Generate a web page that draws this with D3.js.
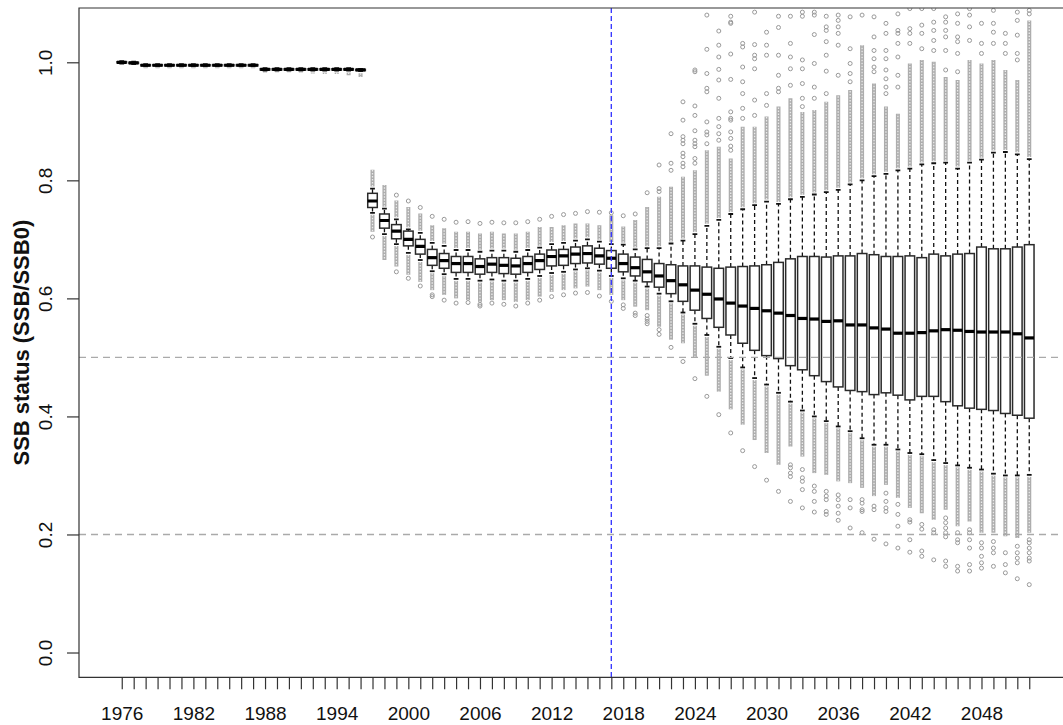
<!DOCTYPE html>
<html>
<head>
<meta charset="utf-8">
<script src="https://cdn.jsdelivr.net/npm/d3@7"></script>
<style>
  body { margin: 0; background: #fff; overflow: hidden; }
  svg { display: block; font-family: "Liberation Sans", Arial, Helvetica, sans-serif; }
</style>
</head>
<body>
<svg id="chart" width="1063" height="725"></svg>
<script>
// one box per year
var years = d3.range(1976, 2053);

// box statistics (SSB/SSB0)
var q3 = [1.001, 1.000,
  0.996, 0.996, 0.996, 0.996, 0.996, 0.996, 0.996, 0.996, 0.996, 0.996,
  0.989, 0.989, 0.989, 0.989, 0.989, 0.989, 0.989, 0.989, 0.988,
  0.778, 0.743, 0.725, 0.714, 0.700, 0.683, 0.676, 0.671, 0.671, 0.667, 0.669, 0.669, 0.668, 0.671, 0.675, 0.682, 0.683, 0.687, 0.689, 0.685,
  0.681, 0.675, 0.670, 0.666, 0.659, 0.657, 0.655, 0.655, 0.653, 0.651, 0.653, 0.654, 0.655, 0.657, 0.661, 0.667, 0.671, 0.671,
  0.670, 0.672, 0.672, 0.676, 0.674, 0.671, 0.671, 0.672, 0.669, 0.675, 0.672, 0.675, 0.676, 0.687, 0.684, 0.684, 0.687, 0.691];

var med = [1.000, 0.999,
  0.995, 0.995, 0.995, 0.995, 0.995, 0.995, 0.995, 0.995, 0.995, 0.995,
  0.988, 0.988, 0.988, 0.988, 0.988, 0.988, 0.988, 0.988, 0.987,
  0.765, 0.732, 0.714, 0.700, 0.688, 0.669, 0.664, 0.659, 0.659, 0.654, 0.658, 0.656, 0.655, 0.659, 0.664, 0.671, 0.672, 0.675, 0.676, 0.672,
  0.668, 0.659, 0.652, 0.645, 0.638, 0.630, 0.623, 0.614, 0.607, 0.599, 0.592, 0.587, 0.583, 0.579, 0.575, 0.571, 0.566, 0.565,
  0.561, 0.562, 0.555, 0.555, 0.550, 0.548, 0.541, 0.541, 0.542, 0.545, 0.547, 0.546, 0.544, 0.543, 0.543, 0.543, 0.540, 0.533];

var q1 = [0.999, 0.998,
  0.994, 0.994, 0.994, 0.994, 0.994, 0.994, 0.994, 0.994, 0.994, 0.994,
  0.987, 0.987, 0.987, 0.987, 0.987, 0.987, 0.987, 0.987, 0.986,
  0.754, 0.719, 0.701, 0.689, 0.675, 0.656, 0.651, 0.644, 0.644, 0.641, 0.644, 0.642, 0.641, 0.644, 0.649, 0.655, 0.656, 0.659, 0.660, 0.658,
  0.651, 0.645, 0.638, 0.628, 0.619, 0.608, 0.595, 0.580, 0.566, 0.551, 0.538, 0.524, 0.512, 0.503, 0.498, 0.486, 0.479, 0.469,
  0.459, 0.450, 0.444, 0.442, 0.437, 0.440, 0.436, 0.428, 0.434, 0.434, 0.425, 0.418, 0.414, 0.412, 0.410, 0.405, 0.402, 0.397];

var whiskerHi = [1.002, 1.001,
  0.997, 0.997, 0.997, 0.997, 0.997, 0.997, 0.997, 0.997, 0.997, 0.997,
  0.990, 0.990, 0.990, 0.990, 0.990, 0.990, 0.990, 0.990, 0.989,
  0.786, 0.752, 0.734, 0.717, 0.711, 0.694, 0.689, 0.682, 0.682, 0.679, 0.681, 0.681, 0.679, 0.682, 0.686, 0.692, 0.694, 0.698, 0.700, 0.696,
  0.692, 0.691, 0.683, 0.685, 0.685, 0.693, 0.698, 0.709, 0.723, 0.733, 0.743, 0.751, 0.758, 0.764, 0.760, 0.768, 0.772, 0.776,
  0.780, 0.784, 0.793, 0.800, 0.807, 0.811, 0.817, 0.820, 0.827, 0.829, 0.830, 0.820, 0.830, 0.835, 0.847, 0.848, 0.844, 0.836];

var whiskerLo = [0.998, 0.997,
  0.993, 0.993, 0.993, 0.993, 0.993, 0.993, 0.993, 0.993, 0.993, 0.993,
  0.986, 0.986, 0.986, 0.986, 0.986, 0.986, 0.986, 0.986, 0.985,
  0.745, 0.709, 0.692, 0.677, 0.665, 0.646, 0.641, 0.633, 0.633, 0.630, 0.632, 0.630, 0.630, 0.633, 0.638, 0.643, 0.645, 0.649, 0.651, 0.647,
  0.638, 0.634, 0.630, 0.620, 0.608, 0.595, 0.576, 0.557, 0.538, 0.518, 0.499, 0.483, 0.465, 0.454, 0.440, 0.425, 0.410, 0.400,
  0.392, 0.383, 0.375, 0.363, 0.352, 0.352, 0.344, 0.338, 0.336, 0.326, 0.321, 0.317, 0.313, 0.310, 0.303, 0.300, 0.300, 0.301];

// outliers packed so tightly they form a column: column end beyond the whisker
var denseHiTop = [null, null,
  null, null, null, null, null, null, null, null, null, null,
  null, null, null, null, null, null, null, null, null,
  0.818, 0.792, 0.766, 0.755, 0.744, 0.724, 0.719, 0.713, 0.713, 0.710, 0.713, 0.710, 0.710, 0.713, 0.721, 0.721, 0.724, 0.727, 0.727, 0.724,
  0.741, 0.722, 0.733, 0.755, 0.772, 0.789, 0.806, 0.817, 0.851, 0.857, 0.837, 0.891, 0.891, 0.908, 0.925, 0.939, 0.916, 0.919,
  0.933, 0.944, 0.953, 1.029, 0.964, 0.925, 0.913, 0.998, 1.004, 1.001, 0.975, 0.970, 1.004, 0.998, 1.004, 0.987, 0.970, 1.071];

var denseLoBottom = [null, null,
  0.990, 0.990, 0.990, 0.990, 0.990, 0.990, 0.990, 0.990, 0.990, 0.990,
  0.984, 0.983, 0.983, 0.982, 0.981, 0.980, 0.980, 0.978, 0.975,
  0.713, 0.665, 0.654, 0.640, 0.628, 0.614, 0.606, 0.600, 0.597, 0.594, 0.597, 0.597, 0.594, 0.597, 0.603, 0.611, 0.614, 0.617, 0.620, 0.614,
  0.606, 0.597, 0.586, 0.580, 0.552, 0.530, 0.524, 0.499, 0.469, 0.442, 0.412, 0.386, 0.360, 0.338, 0.318, 0.349, 0.332, 0.304,
  0.301, 0.290, 0.287, 0.279, 0.265, 0.284, 0.262, 0.245, 0.236, 0.225, 0.242, 0.214, 0.222, 0.203, 0.203, 0.197, 0.194, 0.203];

// single outliers above and below
var outHi = [[], [],
  [], [], [], [], [], [], [], [], [], [],
  [], [], [], [], [], [], [], [], [],
  [], [], [0.775], [0.765], [0.754], [0.739], [0.734], [0.729], [0.730], [0.727], [0.729], [0.728], [0.728], [0.730], [0.734], [0.739], [0.742], [0.744], [0.747], [0.746],
  [0.745], [0.740], [0.743], [0.779], [0.826, 0.786, 0.781], [0.879, 0.829, 0.817],
  [0.933, 0.902, 0.874, 0.868, 0.862, 0.846, 0.840, 0.829, 0.823],
  [0.987, 0.984, 0.926, 0.910, 0.884, 0.868, 0.862, 0.857, 0.837, 0.829],
  [1.080, 1.022, 0.981, 0.956, 0.950, 0.899, 0.882, 0.877, 0.862],
  [1.053, 1.029, 1.009, 0.988, 0.970, 0.939, 0.905, 0.891, 0.879, 0.868],
  [1.078, 1.068, 1.066, 1.014, 0.971, 0.916, 0.905, 0.902, 0.882, 0.871, 0.858, 0.851],
  [1.032, 1.026, 0.992, 0.967, 0.947, 0.922, 0.905],
  [1.085, 1.030, 1.012, 1.006, 0.989, 0.936, 0.910],
  [1.051, 1.029, 1.012, 0.947, 0.927],
  [1.078, 1.059, 1.012, 0.978, 0.956, 0.950],
  [1.078, 1.032, 1.009, 0.989, 0.961],
  [1.085, 1.078, 1.004, 0.989, 0.964, 0.939, 0.925],
  [1.085, 1.080, 1.047, 0.998, 0.958, 0.939],
  [1.078, 1.060, 1.054, 1.035, 1.012, 0.985, 0.947],
  [1.080, 1.071, 1.060, 1.049, 1.029, 0.978],
  [1.077, 1.023, 0.998, 0.981, 0.967],
  [1.080],
  [1.077, 1.043, 1.020, 1.006, 0.992, 0.984],
  [1.066, 1.049, 1.020, 1.006, 0.987, 0.972, 0.958, 0.947],
  [1.082, 1.054, 1.049, 1.032, 1.009, 0.978, 0.958],
  [1.091, 1.057, 1.049, 1.032],
  [1.091, 1.063, 1.049, 1.023],
  [1.091, 1.068, 1.054, 1.037, 1.020],
  [1.077, 1.068, 1.054, 1.043, 1.020, 0.987],
  [1.082, 1.066, 1.043, 1.035, 1.015, 0.984],
  [1.091, 1.080, 1.060, 1.037],
  [1.066, 1.032, 1.015],
  [1.088, 1.066, 1.051, 1.032],
  [1.049, 1.032, 1.015],
  [1.085, 1.071, 1.046, 1.015, 1.004],
  [1.088, 1.082]];

var outLo = [[], [],
  [], [], [], [], [], [], [], [], [], [],
  [], [], [], [], [], [], [], [], [],
  [0.704], [], [0.645], [0.634], [0.621], [0.606, 0.603], [0.597], [0.592], [0.593], [0.590, 0.587], [0.592], [0.590], [0.587], [0.592], [0.597], [0.603], [0.606], [0.609], [0.610], [0.604],
  [0.595], [0.589, 0.583], [0.575, 0.571], [0.571, 0.565, 0.561, 0.557], [0.547, 0.539], [0.517], [0.493], [0.464],
  [0.434], [0.403], [0.372], [0.342], [0.315], [0.292], [0.273],
  [0.318, 0.313, 0.304, 0.298, 0.256],
  [0.310, 0.296, 0.290, 0.276, 0.245],
  [0.282, 0.273, 0.256, 0.238],
  [0.273, 0.265, 0.259, 0.239, 0.234],
  [0.267, 0.259, 0.248, 0.236, 0.224],
  [0.259, 0.245, 0.211],
  [0.259, 0.253, 0.242, 0.239, 0.203],
  [0.248, 0.242, 0.192],
  [0.270, 0.256, 0.245, 0.239, 0.184],
  [0.251, 0.234, 0.214, 0.177],
  [0.225, 0.221, 0.191, 0.170],
  [0.217, 0.209, 0.172, 0.163],
  [0.208, 0.203, 0.157],
  [0.228, 0.220, 0.211, 0.203, 0.196, 0.155, 0.146],
  [0.203, 0.191, 0.186, 0.146, 0.138],
  [0.208, 0.203, 0.191, 0.177, 0.149, 0.138],
  [0.186, 0.177, 0.163, 0.152, 0.143],
  [0.188, 0.177, 0.169, 0.146],
  [0.169, 0.149, 0.135],
  [0.180, 0.169, 0.160, 0.152, 0.125],
  [0.191, 0.186, 0.177, 0.169, 0.160, 0.155, 0.115]];

var yTicks = [0, 0.2, 0.4, 0.6, 0.8, 1.0];
var refLevels = [0.5, 0.2];
var refYear = 2017;
var yLabel = 'SSB status (SSB/SSB0)';

// plot region, the right edge sits just outside the picture
var plotL = 79, plotR = 1072, plotT = 8, plotB = 677.3;

var svg = d3.select('#chart');

var x = d3.scaleLinear().domain([1972.42, 2055.58]).range([plotL, plotR]);
var y = d3.scaleLinear().domain([-0.042, 1.092]).range([plotB, plotT]);

var boxW = (x(1977) - x(1976)) * 0.8;

var rows = years.map(function (yr, i) {
  return {
    year: yr, q1: q1[i], med: med[i], q3: q3[i],
    lo: whiskerLo[i], hi: whiskerHi[i],
    denseHi: denseHiTop[i], denseLo: denseLoBottom[i],
    outHi: outHi[i], outLo: outLo[i]
  };
});

svg.append('defs').append('clipPath').attr('id', 'plotclip')
  .append('rect')
  .attr('x', plotL).attr('y', plotT)
  .attr('width', plotR - plotL).attr('height', plotB - plotT);

var plot = svg.append('g').attr('clip-path', 'url(#plotclip)');

// dense outlier columns
var dense = [];
rows.forEach(function (d) {
  if (d.denseHi != null) dense.push({ x: d.year, y0: y(d.hi) - 2, y1: y(d.denseHi) });
  if (d.denseLo != null) dense.push({ x: d.year, y0: y(d.lo) + 2, y1: y(d.denseLo) });
});

plot.selectAll('line.dense').data(dense).join('line')
  .attr('class', 'dense')
  .attr('x1', function (d) { return x(d.x); })
  .attr('x2', function (d) { return x(d.x); })
  .attr('y1', function (d) { return d.y0; })
  .attr('y2', function (d) { return d.y1; })
  .attr('stroke', '#adadad')
  .attr('stroke-width', 4);

plot.selectAll('line.denseIn').data(dense).join('line')
  .attr('class', 'denseIn')
  .attr('x1', function (d) { return x(d.x); })
  .attr('x2', function (d) { return x(d.x); })
  .attr('y1', function (d) { return d.y0; })
  .attr('y2', function (d) { return d.y1; })
  .attr('stroke', '#ececec')
  .attr('stroke-width', 1.3)
  .attr('stroke-dasharray', '1.5,1.5');

// single outliers
var points = [];
rows.forEach(function (d) {
  d.outHi.forEach(function (v) { points.push({ x: d.year, v: v }); });
  d.outLo.forEach(function (v) { points.push({ x: d.year, v: v }); });
});

plot.selectAll('circle.out').data(points).join('circle')
  .attr('class', 'out')
  .attr('cx', function (d) { return x(d.x); })
  .attr('cy', function (d) { return y(d.v); })
  .attr('r', 2)
  .attr('fill', 'none')
  .attr('stroke', '#999')
  .attr('stroke-width', 1);

var boxes = plot.selectAll('g.box').data(rows).join('g')
  .attr('class', 'box')
  .attr('transform', function (d) { return 'translate(' + x(d.year) + ',0)'; });

// whiskers, dashed
boxes.append('line')
  .attr('y1', function (d) { return y(d.q3); })
  .attr('y2', function (d) { return y(d.hi); })
  .attr('stroke', '#111').attr('stroke-width', 1.3)
  .attr('stroke-dasharray', '4,3');
boxes.append('line')
  .attr('y1', function (d) { return y(d.q1); })
  .attr('y2', function (d) { return y(d.lo); })
  .attr('stroke', '#111').attr('stroke-width', 1.3)
  .attr('stroke-dasharray', '4,3');

// staples
boxes.append('line')
  .attr('x1', -boxW / 4).attr('x2', boxW / 4)
  .attr('y1', function (d) { return y(d.hi); })
  .attr('y2', function (d) { return y(d.hi); })
  .attr('stroke', '#111').attr('stroke-width', 1.8);
boxes.append('line')
  .attr('x1', -boxW / 4).attr('x2', boxW / 4)
  .attr('y1', function (d) { return y(d.lo); })
  .attr('y2', function (d) { return y(d.lo); })
  .attr('stroke', '#111').attr('stroke-width', 1.8);

boxes.append('rect')
  .attr('x', -boxW / 2)
  .attr('width', boxW)
  .attr('y', function (d) { return y(d.q3); })
  .attr('height', function (d) { return y(d.q1) - y(d.q3); })
  .attr('fill', '#fff')
  .attr('stroke', '#2a2a2a')
  .attr('stroke-width', 1.5);

boxes.append('line')
  .attr('x1', -boxW / 2).attr('x2', boxW / 2)
  .attr('y1', function (d) { return y(d.med); })
  .attr('y2', function (d) { return y(d.med); })
  .attr('stroke', '#000').attr('stroke-width', 3.2);

// reference lines
plot.selectAll('line.ref').data(refLevels).join('line')
  .attr('class', 'ref')
  .attr('x1', plotL).attr('x2', plotR)
  .attr('y1', function (d) { return y(d); })
  .attr('y2', function (d) { return y(d); })
  .attr('stroke', '#aaa').attr('stroke-width', 1.4)
  .attr('stroke-dasharray', '7,5');

plot.append('line')
  .attr('x1', x(refYear)).attr('x2', x(refYear))
  .attr('y1', plotT).attr('y2', plotB)
  .attr('stroke', '#3a3aff').attr('stroke-width', 1.4)
  .attr('stroke-dasharray', '5,3');

// frame: left, top and bottom sides; the right side is off the picture
svg.append('path')
  .attr('d', 'M' + (plotR + 5) + ',' + plotT + 'H' + plotL + 'V' + plotB + 'H' + (plotR + 5))
  .attr('fill', 'none').attr('stroke', '#333').attr('stroke-width', 1.2);

// y axis
var yAxis = svg.append('g')
  .attr('transform', 'translate(' + plotL + ',0)')
  .call(d3.axisLeft(y).tickValues(yTicks).tickSize(12).tickFormat(d3.format('.1f')));
yAxis.select('.domain').remove();
yAxis.selectAll('line').attr('stroke', '#333').attr('stroke-width', 1.2);
yAxis.selectAll('text')
  .attr('x', 0).attr('y', -27).attr('dy', null)
  .attr('transform', 'rotate(-90)')
  .attr('text-anchor', 'middle')
  .attr('fill', '#111')
  .attr('font-size', 19)
  .attr('font-family', '"Liberation Sans", Arial, sans-serif');

// x axis, a tick every year, a label every sixth
var xAxis = svg.append('g')
  .attr('transform', 'translate(0,' + plotB + ')')
  .call(d3.axisBottom(x).tickValues(years).tickSize(12).tickPadding(17)
    .tickFormat(function (d) { return (d - 1976) % 6 === 0 ? d : ''; }));
xAxis.select('.domain').remove();
xAxis.selectAll('line').attr('stroke', '#333').attr('stroke-width', 1.2);
xAxis.attr('font-size', 19).attr('font-family', '"Liberation Sans", Arial, sans-serif');
xAxis.selectAll('text').attr('fill', '#111');

svg.append('text')
  .attr('transform', 'translate(29,' + ((plotT + plotB) / 2) + ') rotate(-90)')
  .attr('text-anchor', 'middle')
  .attr('font-size', 22)
  .attr('font-weight', 'bold')
  .attr('fill', '#111')
  .text(yLabel);
</script>
</body>
</html>
